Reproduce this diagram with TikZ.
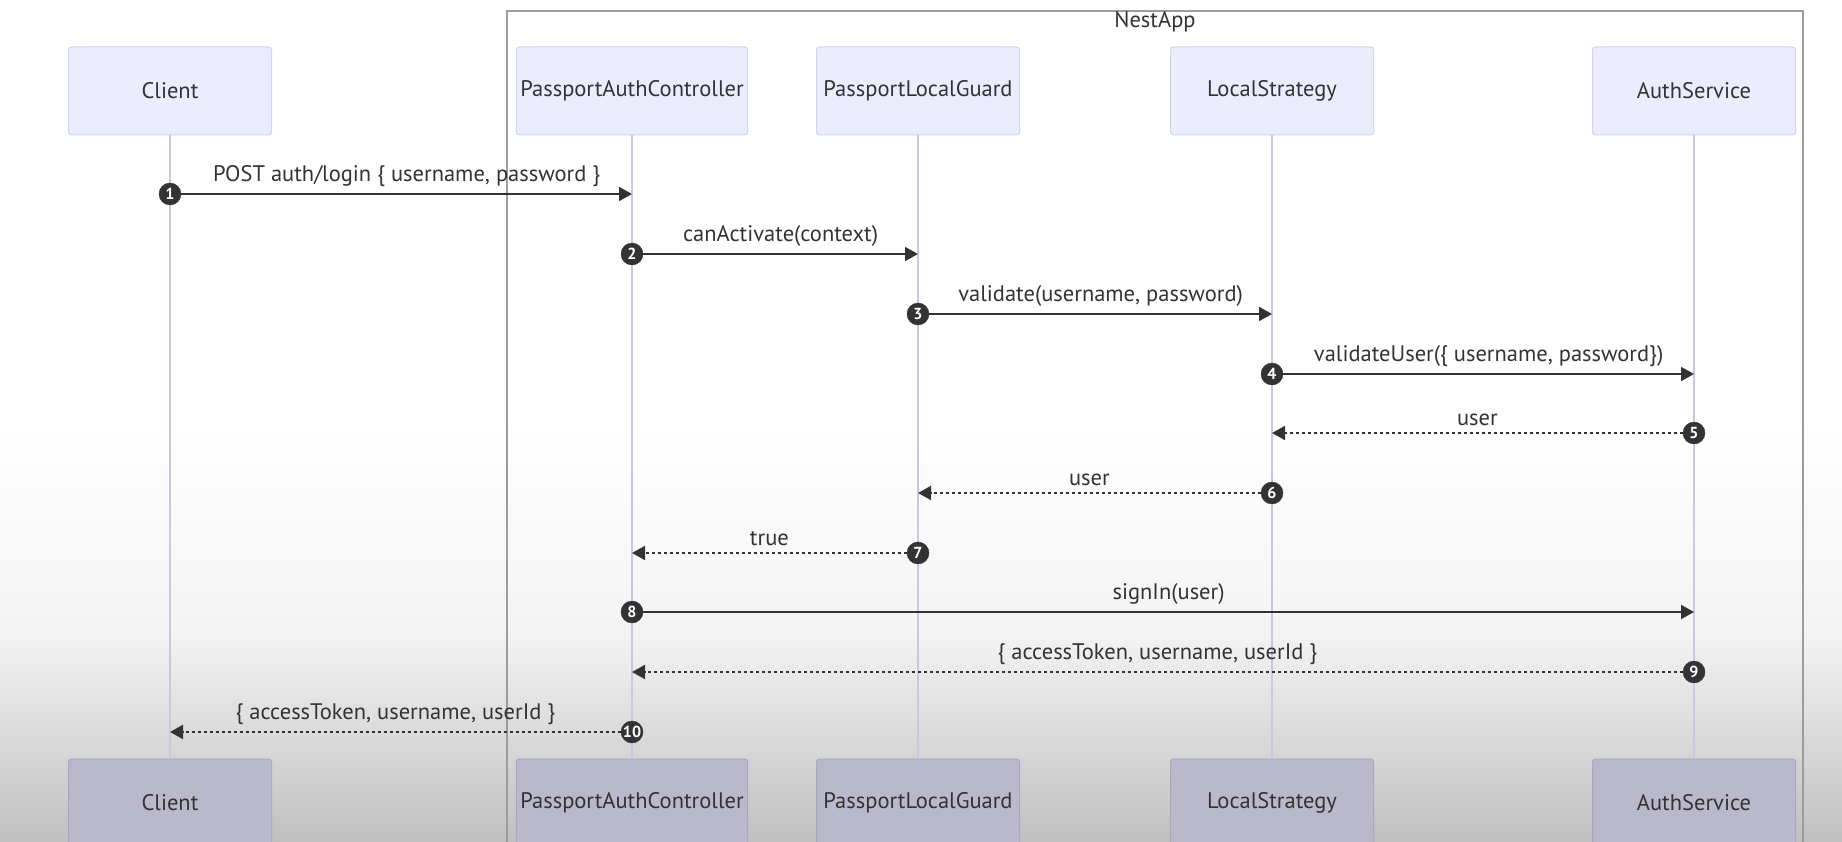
\documentclass[tikz,border=0pt]{standalone}
\usepackage{fontspec}
\setmainfont{PT Sans}
\usetikzlibrary{positioning}
\usetikzlibrary{arrows.meta}

\definecolor{actorfill}{HTML}{ECECFF}
\definecolor{actorline}{HTML}{D6D2F0}
\definecolor{actordark}{HTML}{BAB9CC}
\definecolor{actordarkline}{HTML}{A9A7C0}
\definecolor{lifecol}{HTML}{CAC7E2}
\definecolor{msgcol}{HTML}{333333}
\definecolor{framecol}{HTML}{9C9C9C}
\definecolor{fadecol}{HTML}{C0C0C0}

\begin{document}
\begin{tikzpicture}[x=1pt,y=-1pt,
			every node/.style={font=\fontsize{22.5}{26}\selectfont, text=msgcol},
			actor/.style={draw=actorline, fill=actorfill, line width=1pt, rounded corners=3pt,
					minimum width=203pt, minimum height=88pt, inner xsep=4pt},
			actorb/.style={actor, draw=actordarkline, fill=actordark},
			life/.style={draw=lifecol, line width=1.5pt},
			msg/.style={draw=msgcol, line width=2pt, -{Triangle[length=13pt,width=14pt]}},
			reply/.style={msg, dash pattern=on 3pt off 3pt},
			lbl/.style={midway, above=3pt},
			num/.style={circle, fill=msgcol, draw=msgcol, minimum size=22pt, inner sep=0pt,
					text=white, font=\fontsize{16}{16}\selectfont\bfseries}]
		\useasboundingbox (0,0) rectangle (1842,842);
		\fill[white] (0,0) rectangle (1842,420);
		\shade[top color=white, bottom color=fadecol, middle color=white!82!fadecol] (0,420) rectangle (1842,842);

		\draw[framecol, line width=1.5pt] (507,842) -- (507,11) -- (1803,11) -- (1803,842);
		\node (nestapp) at (1155,22) {NestApp};

		\node[actor] (client) at (170,91) {Client};
		\node[actor] (pac) at (632,91) {PassportAuthController};
		\node[actor] (plg) at (918,91) {PassportLocalGuard};
		\node[actor] (ls) at (1272,91) {LocalStrategy};
		\node[actor] (as) at (1694,91) {AuthService};

		\node[actorb] (clientb) at (170,803) {Client};
		\node[actorb] (pacb) at (632,803) {PassportAuthController};
		\node[actorb] (plgb) at (918,803) {PassportLocalGuard};
		\node[actorb] (lsb) at (1272,803) {LocalStrategy};
		\node[actorb] (asb) at (1694,803) {AuthService};

		\draw[life] (client) -- (clientb);
		\draw[life] (pac) -- (pacb);
		\draw[life] (plg) -- (plgb);
		\draw[life] (ls) -- (lsb);
		\draw[life] (as) -- (asb);

		\node[num] (m1) at (170,194) {1};
		\node[num] (m2) at (632,254) {2};
		\node[num] (m3) at (918,314) {3};
		\node[num] (m4) at (1272,374) {4};
		\node[num] (m5) at (1694,433) {5};
		\node[num] (m6) at (1272,493) {6};
		\node[num] (m7) at (918,553) {7};
		\node[num] (m8) at (632,612) {8};
		\node[num] (m9) at (1694,672) {9};
		\node[num] (m10) at (632,732) {10};

		\draw[msg] (m1) -- (pac |- m1) node[lbl] {POST auth/login \{ username, password \}};
		\draw[msg] (m2) -- (plg |- m2) node[lbl] {canActivate(context)};
		\draw[msg] (m3) -- (ls |- m3) node[lbl] {validate(username, password)};
		\draw[msg] (m4) -- (as |- m4) node[lbl] {validateUser(\{ username, password\})};
		\draw[reply] (m5) -- (ls |- m5) node[lbl] {user};
		\draw[reply] (m6) -- (plg |- m6) node[lbl] {user};
		\draw[reply] (m7) -- (pac |- m7) node[lbl] {true};
		\draw[msg] (m8) -- (as |- m8) node[lbl] {signIn(user)};
		\draw[reply] (m9) -- (pac |- m9) node[lbl] {\{ accessToken, username, userId \}};
		\draw[reply] (m10) -- (client |- m10) node[lbl] {\{ accessToken, username, userId \}};
	\end{tikzpicture}
\end{document}
